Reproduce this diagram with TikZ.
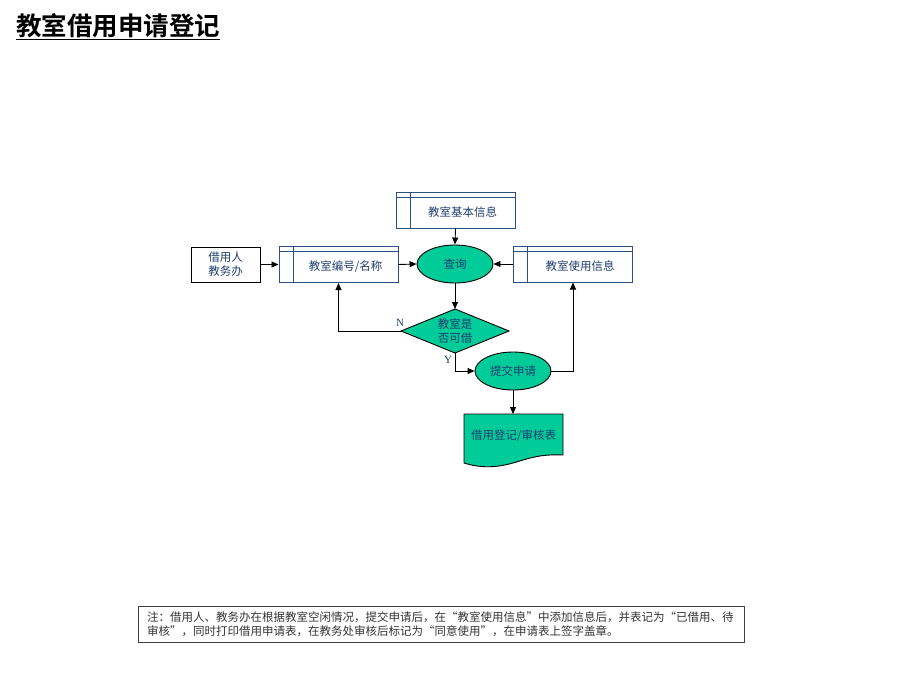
\documentclass[tikz,border=0pt]{standalone}
\usepackage{fontspec}
\newfontfamily\cjk{Noto Sans CJK SC}
\newfontfamily\cjkb{Noto Sans CJK SC Bold}
\setmainfont{Liberation Serif}
\usetikzlibrary{shapes.geometric,arrows.meta}
\definecolor{tealg}{RGB}{0,204,153}
\definecolor{dblue}{RGB}{31,61,110}
\definecolor{sblue}{RGB}{45,80,130}
\newcommand{\lowr}[1]{\raisebox{-2pt}[\height][\depth]{#1}}
\tikzset{
  conn/.style={draw=black, line width=0.9pt, -{Triangle[length=7pt,width=6pt]}},
  txt/.style={font=\cjk\fontsize{11.5}{14}\selectfont, text=dblue},
  actor/.style={txt, draw=black, line width=0.9pt, fill=white, minimum width=69pt, minimum height=35pt, inner sep=0pt, align=center},
  store/.style={txt, draw=sblue, line width=1pt, fill=white, minimum width=119pt, minimum height=36pt, inner sep=0pt,
    path picture={
      \draw[sblue, line width=0.9pt] ([yshift=-5pt]path picture bounding box.north west) -- ([yshift=-5pt]path picture bounding box.north east);
      \draw[sblue, line width=0.9pt] ([xshift=14pt]path picture bounding box.north west) -- ([xshift=14pt]path picture bounding box.south west);
    }},
  proc/.style={txt, ellipse, draw=black, line width=0.9pt, fill=tealg, minimum width=76pt, minimum height=38pt, inner sep=0pt},
  yn/.style={font=\fontsize{11}{12}\selectfont, text=dblue, inner sep=0pt},
}
\begin{document}
\begin{tikzpicture}[x=1pt, y=-1pt]
\useasboundingbox (0,0) rectangle (920,690);
% title
\node[anchor=west, inner sep=0pt, font=\cjkb\fontsize{25.5}{28}\selectfont] (title) at (16,27) {\underline{教室借用申请登记}};
% nodes
\node[actor] (actor) at (225.5,264.5) {借用人\\教务办};
\node[store] (num) at (338.5,264.5) {\hspace*{14pt}\lowr{教室编号/名称}};
\node[store] (basic) at (455.5,210) {\hspace*{14pt}\lowr{教室基本信息}};
\node[store] (use) at (573,264) {\hspace*{14pt}\lowr{教室使用信息}};
\node[proc] (query) at (455,264) {查询};
\path[fill=tealg, draw=black, line width=0.9pt] (401,331) -- (455,309) -- (509,331) -- (455,353) -- cycle;
\node[txt, align=center, inner sep=0pt] (diatext) at (455,331.5) {教室是\\否可借};
\node[proc] (submit) at (513,371) {提交申请};
% document
\path[fill=tealg, draw=black, line width=0.9pt] (464,414) -- (563,414) -- (563,455)
  .. controls (540,454) and (530,458) .. (513,463)
  .. controls (495,468) and (480,468) .. (464,463) -- cycle;
\node[txt] (doc) at (513.5,436) {借用登记/审核表};
\coordinate (doctop) at (513,414);
% note
\node[draw=black!75, line width=1pt, minimum width=606pt, minimum height=36pt, inner sep=0pt] (notebox) at (441,624) {};
\node[anchor=west, inner sep=0pt, align=left, font=\cjk\fontsize{11.5}{14}\selectfont, text=black!80] (note) at (147,624.5)
  {注：借用人、教务办在根据教室空闲情况，提交申请后，在“教室使用信息”中添加信息后，并表记为“已借用、待\\审核”，同时打印借用申请表，在教务处审核后标记为“同意使用”，在申请表上签字盖章。};
% connectors
\draw[conn] (actor.east) -- (num.west);
\draw[conn] (num.east) -- (query.west);
\draw[conn] (basic.south) -- (query.north);
\draw[conn] (use.west) -- (query.east);
\coordinate (dtop) at (455,309);
\coordinate (dleft) at (401,331);
\coordinate (dbot) at (455,353);
\draw[conn] (query.south) -- (dtop);
\draw[conn] (dleft) -| (num.south);
\draw[conn] (dbot) |- (submit.west);
\draw[conn] (submit.east) -| (use.south);
\draw[conn] (submit.south) -- (doctop);
\node[yn] (nlab) at (400,323) {N};
\node[yn] (ylab) at (448,360) {Y};
\end{tikzpicture}
\end{document}
